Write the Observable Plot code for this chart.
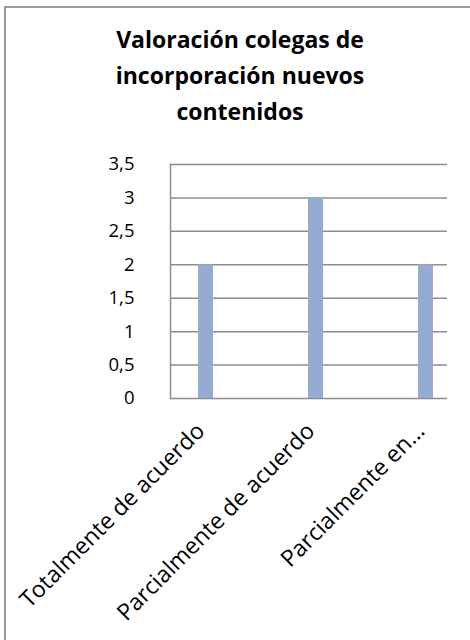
<!DOCTYPE html>
<html>
<head>
<meta charset="utf-8">
<script src="https://cdn.jsdelivr.net/npm/d3@7"></script>
<script src="https://cdn.jsdelivr.net/npm/@observablehq/plot@0.6"></script>
<style>
  html, body { margin: 0; padding: 0; background: #fff; }
  #wrap { position: relative; width: 470px; height: 640px; overflow: hidden; font-family: "Open Sans", sans-serif; }
  #border { position: absolute; left: 4px; top: 6px; width: 480px; height: 650px; border-top: 2px solid #9a9a9a; border-left: 2px solid #9a9a9a; }
  #title { position: absolute; left: 0; top: 21px; width: 480px; text-align: center; font-weight: bold; font-size: 23px; line-height: 36px; color: #000; }
  #chart { position: absolute; left: 0; top: 0; }
</style>
</head>
<body>
<div id="wrap">
  <div id="border"></div>
  <div id="title">Valoración colegas de<br>incorporación nuevos<br>contenidos</div>
  <div id="chart"></div>
</div>
<script>
const categories = ["Totalmente de acuerdo", "Parcialmente de acuerdo", "Parcialmente en desacuerdo"];
const tickLabels = ["Totalmente de acuerdo", "Parcialmente de acuerdo", "Parcialmente en..."];
const values = [2, 3, 2];
const yTicks = [0, 0.5, 1, 1.5, 2, 2.5, 3, 3.5];

const data = categories.map((c, i) => ({category: c, label: tickLabels[i], value: values[i]}));
const fmt = d => String(d).replace(".", ",");

const chart = Plot.plot({
  width: 470,
  height: 640,
  marginTop: 164,
  marginBottom: 242,
  marginLeft: 170,
  marginRight: 23,
  style: {fontFamily: "'Open Sans', sans-serif", background: "transparent"},
  x: {domain: categories, range: [150, 481], paddingInner: 0.864, paddingOuter: 0.432, axis: null},
  y: {domain: [0, 3.5], ticks: yTicks, axis: null},
  marks: [
    Plot.ruleY(yTicks, {stroke: "#8c8c8c", strokeWidth: 1.5}),
    Plot.frame({anchor: "left", stroke: "#8c8c8c", strokeWidth: 1.5}),
    Plot.barY(data, {x: "category", y: "value", fill: "#95abd2"}),
    Plot.axisY({ticks: yTicks, tickSize: 0, tickPadding: 36, tickFormat: fmt, label: null, fontSize: 18.5, fill: "#000"}),
    Plot.text(data, {x: "category", frameAnchor: "bottom", text: "label", rotate: -45, textAnchor: "end", lineAnchor: "bottom", dx: 0, dy: 34, fontSize: 23, fill: "#000"})
  ]
});
document.getElementById("chart").appendChild(chart);
</script>
</body>
</html>
